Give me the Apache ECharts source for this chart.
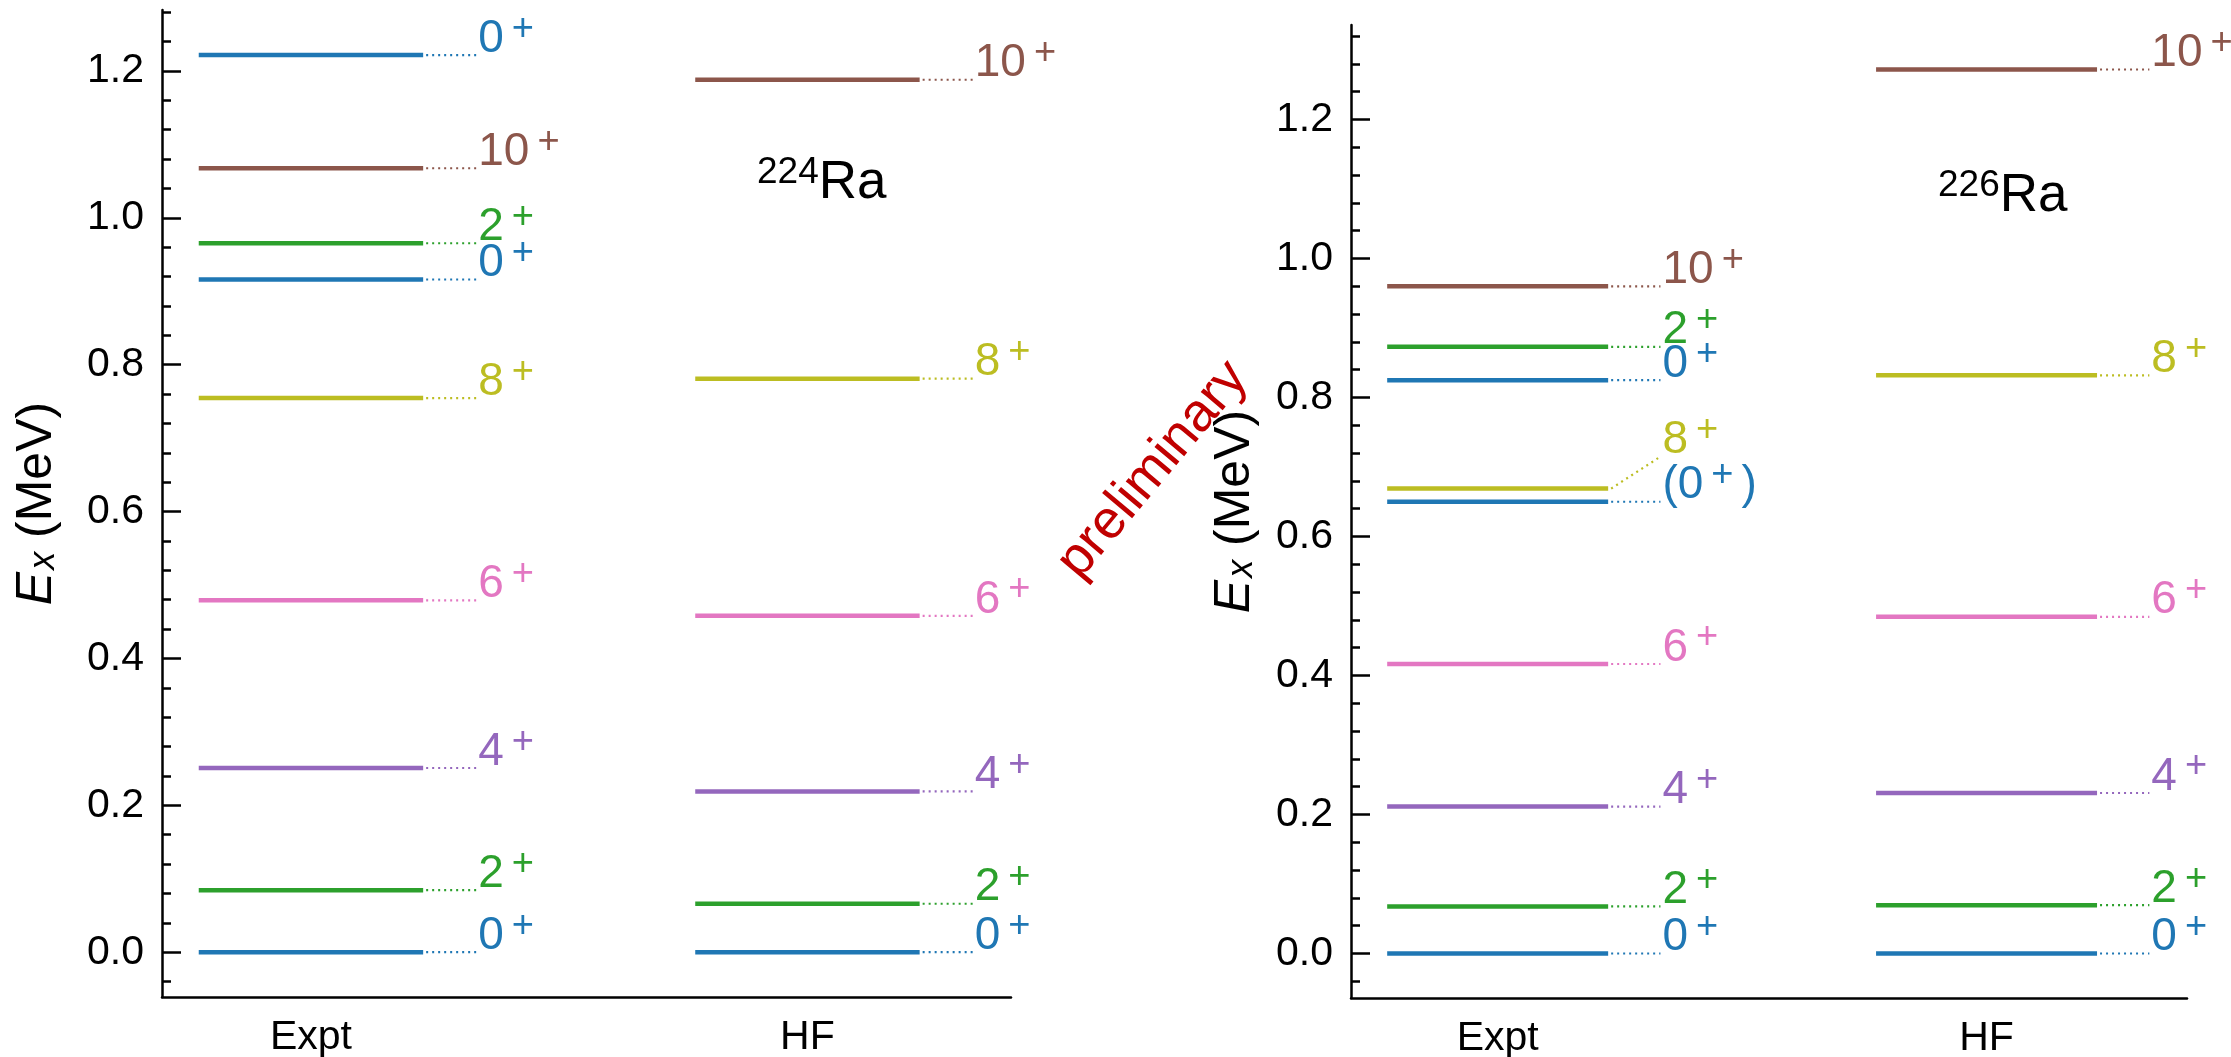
<!DOCTYPE html>
<html>
<head>
<meta charset="utf-8">
<script src="https://cdn.jsdelivr.net/npm/echarts@6/dist/echarts.min.js"></script>
<style>
  html, body { margin: 0; padding: 0; background: #fff; }
  #chart { width: 2231px; height: 1057px; }
</style>
</head>
<body>
<div id="chart"></div>
<script>
// x categories and y ticks
const categories = ['Expt', 'HF']
const yTickValues = [0, 0.2, 0.4, 0.6, 0.8, 1.0, 1.2]
const yTickLabels = ['0.0', '0.2', '0.4', '0.6', '0.8', '1.0', '1.2']

// 224Ra levels (MeV)
const ra224ExptE = [0, 0.0844, 0.2508, 0.4791, 0.7545, 0.9160, 0.9654, 1.0675, 1.2216]
const ra224ExptJ = ['0+', '2+', '4+', '6+', '8+', '0+', '2+', '10+', '0+']
const ra224ExptLabelE = [0, 0.0844, 0.2508, 0.4791, 0.7545, 0.9160, 0.9654, 1.0675, 1.2216]
const ra224HfE = [0, 0.066, 0.219, 0.458, 0.781, 1.188]
const ra224HfJ = ['0+', '2+', '4+', '6+', '8+', '10+']

// 226Ra levels (MeV)
const ra226ExptE = [0, 0.0677, 0.2115, 0.4166, 0.650, 0.669, 0.825, 0.873, 0.960]
const ra226ExptJ = ['0+', '2+', '4+', '6+', '(0+)', '8+', '0+', '2+', '10+']
const ra226ExptLabelE = [0, 0.0677, 0.2115, 0.4166, 0.650, 0.715, 0.825, 0.873, 0.960]
const ra226HfE = [0, 0.0695, 0.231, 0.4845, 0.832, 1.272]
const ra226HfJ = ['0+', '2+', '4+', '6+', '8+', '10+']

const spinColors = {
  '0': '#1f77b4',
  '2': '#2ca02c',
  '4': '#9467bd',
  '6': '#e377c2',
  '8': '#bcbd22',
  '10': '#8c564b'
}

const FONT = 'Liberation Sans, Arial, sans-serif'
const HALF = 0.226      // half length of a level line (x units)
const DOT_END = 0.333   // where the dotted leader ends
const MAIN_SIZE = 46
const SUP_SIZE = 38

var minorTicks = []
for (var t = -0.04; t < 1.33; t += 0.04) minorTicks.push(Math.round(t * 100) / 100)

const measureCtx = document.createElement('canvas').getContext('2d')
function textWidth(str, size) {
  measureCtx.font = size + 'px ' + FONT
  return measureCtx.measureText(str).width
}

// "0+" -> 0 with a raised plus; "(0+)" keeps the closing bracket after it
function spinLabel(j, x, y, color) {
  const parts = j.split('+')
  const mid = y - 16
  const plusX = x + textWidth(parts[0], MAIN_SIZE) + 8
  const els = [
    { type: 'text', x: x, y: mid, style: { text: parts[0], fill: color, fontSize: MAIN_SIZE, fontFamily: FONT, align: 'left', verticalAlign: 'middle' } },
    { type: 'text', x: plusX, y: mid - 10, style: { text: '+', fill: color, fontSize: SUP_SIZE, fontFamily: FONT, align: 'left', verticalAlign: 'middle' } }
  ]
  if (parts[1]) {
    els.push({ type: 'text', x: plusX + textWidth('+', SUP_SIZE) + 8, y: mid, style: { text: parts[1], fill: color, fontSize: MAIN_SIZE, fontFamily: FONT, align: 'left', verticalAlign: 'middle' } })
  }
  return els
}

function levelSeries(col, energies, spins, labelE, xAxisIndex, yAxisIndex) {
  const items = energies.map((e, i) => ({ value: [col, e, labelE ? labelE[i] : e], j: spins[i] }))
  return {
    type: 'custom',
    xAxisIndex: xAxisIndex,
    yAxisIndex: yAxisIndex,
    clip: false,
    silent: true,
    data: items,
    renderItem: function (params, api) {
      const it = items[params.dataIndex]
      const color = spinColors[it.j.replace(/[^0-9]/g, '')]
      const a = api.coord([api.value(0) - HALF, api.value(1)])
      const b = api.coord([api.value(0) + HALF, api.value(1)])
      const c = api.coord([api.value(0) + DOT_END, api.value(2)])
      return {
        type: 'group',
        children: [
          {
            type: 'line',
            shape: { x1: a[0], y1: a[1], x2: b[0], y2: b[1] },
            style: { stroke: color, lineWidth: 4.5 }
          },
          {
            type: 'line',
            shape: { x1: b[0] + 3, y1: b[1], x2: c[0], y2: c[1] },
            style: { stroke: color, lineWidth: 2.2, lineDash: [2, 4] }
          }
        ].concat(spinLabel(it.j, c[0] + 2, c[1], color))
      }
    }
  }
}

function xAxisFor(gridIndex) {
  return {
    type: 'value',
    gridIndex: gridIndex,
    min: -0.3,
    max: 1.41,
    position: 'bottom',
    splitLine: { show: false },
    axisLine: { onZero: false, lineStyle: { color: '#000', width: 2.5 } },
    axisTick: { show: false },
    axisLabel: {
      customValues: [0, 1],
      formatter: v => categories[Math.round(v)],
      color: '#000',
      fontSize: 41,
      fontFamily: FONT,
      margin: 20
    }
  }
}

function yAxesFor(gridIndex, min, max, nameGap) {
  return [
    {
      type: 'value',
      gridIndex: gridIndex,
      position: 'left',
      min: min,
      max: max,
      name: '{e|E}{sub|x}{n| (MeV)}',
      nameLocation: 'middle',
      nameRotate: 90,
      nameGap: nameGap,
      nameTextStyle: {
        rich: {
          e: { fontSize: 50, lineHeight: 50, fontStyle: 'italic', fontFamily: FONT, color: '#000', verticalAlign: 'top' },
          sub: { fontSize: 36, lineHeight: 36, fontStyle: 'italic', fontFamily: FONT, color: '#000', verticalAlign: 'bottom', padding: [20, 0, 0, 2] },
          n: { fontSize: 50, lineHeight: 50, fontFamily: FONT, color: '#000', verticalAlign: 'top' }
        }
      },
      splitLine: { show: false },
      axisLine: { show: true, onZero: false, lineStyle: { color: '#000', width: 2.5 } },
      axisTick: { inside: true, length: 19, customValues: yTickValues, lineStyle: { color: '#000', width: 2.5 } },
      axisLabel: {
        customValues: yTickValues,
        formatter: v => yTickLabels[yTickValues.indexOf(Math.round(v * 10) / 10)],
        color: '#000',
        fontSize: 41,
        fontFamily: FONT,
        margin: 18
      }
    },
    {
      type: 'value',
      gridIndex: gridIndex,
      position: 'left',
      min: min,
      max: max,
      splitLine: { show: false },
      axisLine: { show: false, onZero: false },
      axisTick: { inside: true, length: 9, customValues: minorTicks.filter(v => v <= max), lineStyle: { color: '#000', width: 2.5 } },
      axisLabel: { show: false }
    }
  ]
}

var myChart = echarts.init(document.getElementById('chart'))
var option = {
  animation: false,
  backgroundColor: '#fff',
  grid: [
    { left: 162, top: 10, width: 849, height: 987, outerBoundsMode: 'none' },
    { left: 1351, top: 25, width: 836, height: 973, outerBoundsMode: 'none' }
  ],
  xAxis: [xAxisFor(0), xAxisFor(1)],
  yAxis: yAxesFor(0, -0.061, 1.283, 100).concat(yAxesFor(1, -0.064, 1.336, 91)),
  series: [
    levelSeries(0, ra224ExptE, ra224ExptJ, ra224ExptLabelE, 0, 0),
    levelSeries(1, ra224HfE, ra224HfJ, null, 0, 0),
    levelSeries(0, ra226ExptE, ra226ExptJ, ra226ExptLabelE, 1, 2),
    levelSeries(1, ra226HfE, ra226HfJ, null, 1, 2)
  ],
  graphic: [
    {
      type: 'text',
      left: 757,
      top: 154,
      style: {
        text: '{s|224}{m|Ra}',
        rich: {
          s: { fontSize: 37, lineHeight: 36, verticalAlign: 'top', fontFamily: FONT, fill: '#000' },
          m: { fontSize: 53, lineHeight: 56, verticalAlign: 'bottom', fontFamily: FONT, fill: '#000' }
        }
      }
    },
    {
      type: 'text',
      left: 1938,
      top: 167,
      style: {
        text: '{s|226}{m|Ra}',
        rich: {
          s: { fontSize: 37, lineHeight: 36, verticalAlign: 'top', fontFamily: FONT, fill: '#000' },
          m: { fontSize: 53, lineHeight: 56, verticalAlign: 'bottom', fontFamily: FONT, fill: '#000' }
        }
      }
    },
    {
      type: 'text',
      x: 1153,
      y: 470,
      rotation: 50 * Math.PI / 180,
      style: {
        text: 'preliminary',
        fill: '#c00000',
        fontSize: 54,
        fontFamily: FONT,
        align: 'center',
        verticalAlign: 'middle'
      }
    }
  ]
}
myChart.setOption(option)
</script>
</body>
</html>
